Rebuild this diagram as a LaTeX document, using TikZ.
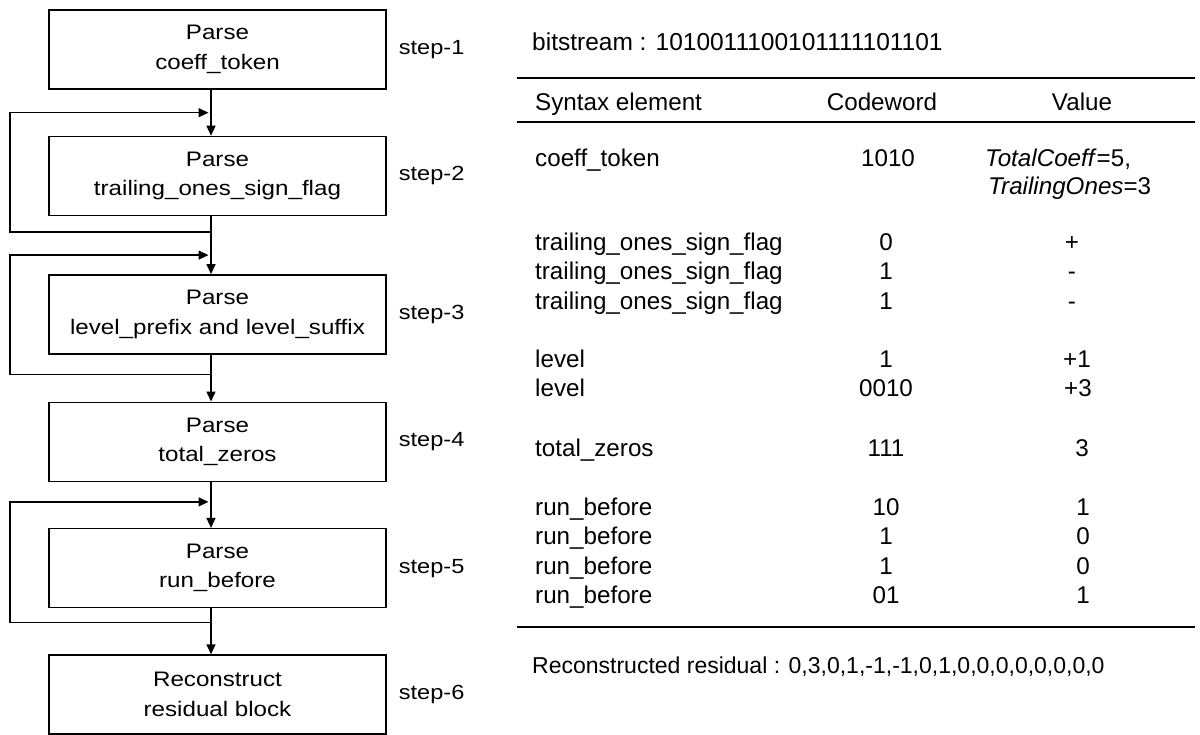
\documentclass[tikz,border=0pt]{standalone}
\usepackage{fontspec}
\setmainfont{Liberation Sans}
\newfontfamily\boxfont{Liberation Sans}[FakeStretch=1.15]
\usepackage{tikz}
\usetikzlibrary{arrows.meta,positioning,calc}

\begin{document}
\begin{tikzpicture}[
  x=1pt, y=-1pt,
  stepbox/.style={draw, line width=1.4pt, minimum width=337pt, minimum height=79pt, align=center, inner sep=0pt,
    font=\boxfont\fontsize{21}{29.5}\selectfont},
  steplabel/.style={inner sep=0pt, font=\boxfont\fontsize{20.5}{24}\selectfont},
  txt/.style={inner sep=0pt, font=\fontsize{24.2}{28}\selectfont},
  rule/.style={line width=1.4pt},
  flow/.style={line width=1.4pt},
  >={Triangle[length=10pt,width=9pt]}]

  \useasboundingbox (0,0) rectangle (1200,734);

  % flow chart
  \node[stepbox] (b1) at (217.5,49.5) {Parse\\coeff\_token};
  \node[stepbox, below=46pt of b1] (b2) {Parse\\trailing\_ones\_sign\_flag};
  \node[stepbox, below=58pt of b2] (b3) {Parse\\level\_prefix and level\_suffix};
  \node[stepbox, below=47pt of b3] (b4) {Parse\\total\_zeros};
  \node[stepbox, below=46pt of b4] (b5) {Parse\\run\_before};
  \node[stepbox, below=46pt of b5] (b6) {Reconstruct\\residual block};

  \node[steplabel, right=12pt of b1] (s1) {step-1};
  \node[steplabel, right=12pt of b2] (s2) {step-2};
  \node[steplabel, right=12pt of b3] (s3) {step-3};
  \node[steplabel, right=12pt of b4] (s4) {step-4};
  \node[steplabel, right=12pt of b5] (s5) {step-5};
  \node[steplabel, right=12pt of b6] (s6) {step-6};

  \draw[flow,->] ([xshift=-6.5pt]b1.south) -- ([xshift=-6.5pt]b2.north);
  \draw[flow,->] ([xshift=-6.5pt]b2.south) -- ([xshift=-6.5pt]b3.north);
  \draw[flow,->] ([xshift=-6.5pt]b3.south) -- ([xshift=-6.5pt]b4.north);
  \draw[flow,->] ([xshift=-6.5pt]b4.south) -- ([xshift=-6.5pt]b5.north);
  \draw[flow,->] ([xshift=-6.5pt]b5.south) -- ([xshift=-6.5pt]b6.north);

  % loops
  \coordinate (lft) at (10,0);
  \coordinate (fb2) at ([xshift=-6.5pt,yshift=-16pt]b2.south);
  \coordinate (in2) at ([xshift=-9pt,yshift=23pt]b2.north);
  \coordinate (fb3) at ([xshift=-6.5pt,yshift=-20pt]b3.south);
  \coordinate (in3) at ([xshift=-9pt,yshift=19pt]b3.north);
  \coordinate (fb5) at ([xshift=-6.5pt,yshift=-14pt]b5.south);
  \coordinate (in5) at ([xshift=-9pt,yshift=26pt]b5.north);
  \draw[flow,->] (fb2) -- (fb2 -| lft) |- (in2);
  \draw[flow,->] (fb3) -- (fb3 -| lft) |- (in3);
  \draw[flow,->] (fb5) -- (fb5 -| lft) |- (in5);

  % table
  \node[txt, anchor=base west, font=\fontsize{24.5}{28}\selectfont] (bits) at (532,50) {bitstream : 1010011100101111101101};
  \draw[rule] (517,78) -- (1195,78);
  \node[txt, anchor=base west] (hse) at (535,110) {Syntax element};
  \node[txt, anchor=base] (hcw) at (882,110) {Codeword};
  \node[txt, anchor=base] (hval) at (1082,110) {Value};
  \draw[rule] (517,122) -- (1195,122);

  \node[txt, anchor=base west] (se0) at (535,166) {coeff\_token};
  \node[txt, anchor=base] (cw0) at (888,166) {1010};
  \node[txt, anchor=base west] (va0) at (985,166) {\textit{TotalCoeff}=5,};
  \node[txt, anchor=base west] (vb0) at (988,194.5) {\textit{TrailingOnes}=3};

  \foreach \se/\cw/\va/\vx/\yb [count=\i] in {
      trailing\_ones\_sign\_flag/0/+/1072/250,
      trailing\_ones\_sign\_flag/1/-/1072/279.5,
      trailing\_ones\_sign\_flag/1/-/1072/309,
      level/1/+1/1077/367,
      level/0010/+3/1078/396,
      total\_zeros/111/3/1082/456,
      run\_before/10/1/1083/515,
      run\_before/1/0/1083/544.5,
      run\_before/1/0/1083/574,
      run\_before/01/1/1083/603}{
    \node[txt, anchor=base west] (se\i) at (535,\yb) {\se};
    \node[txt, anchor=base] (cw\i) at (886,\yb) {\cw};
    \node[txt, anchor=base] (va\i) at (\vx,\yb) {\va};
  }

  \draw[rule] (517,627) -- (1195,627);
  \node[txt, anchor=base west, font=\fontsize{23}{26}\selectfont] (recon) at (532,673) {Reconstructed residual : 0,3,0,1,-1,-1,0,1,0,0,0,0,0,0,0,0};
\end{tikzpicture}
\end{document}
